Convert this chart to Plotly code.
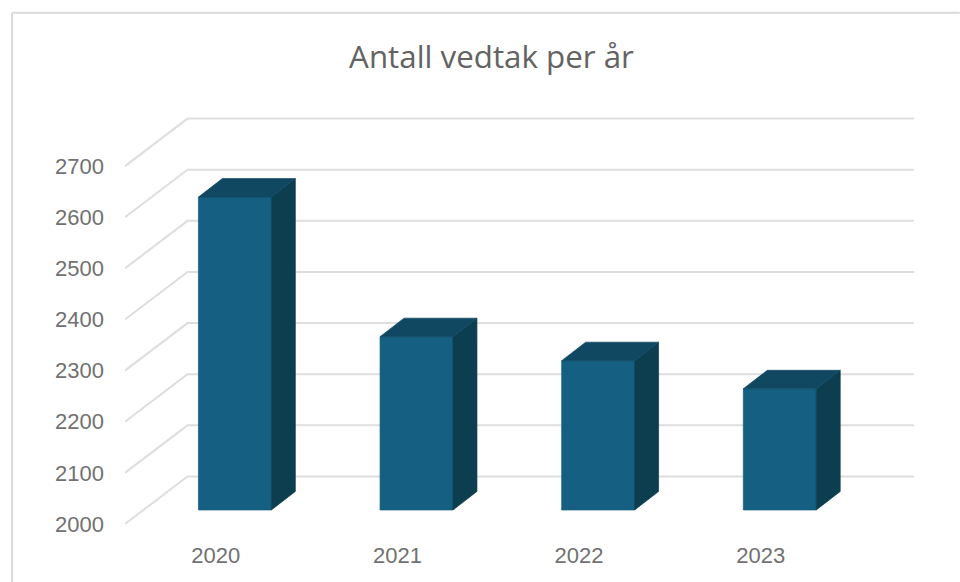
import plotly.graph_objects as go

years = ["2020", "2021", "2022", "2023"]
vedtak = [2612, 2339, 2292, 2237]
y_ticks = [2000, 2100, 2200, 2300, 2400, 2500, 2600, 2700]

AXIS_BASE = 2000
WALL_DX, WALL_DV = 0.344, 93.0      # depth of the chart floor (x units, value units)
BAR_DX, BAR_DV = 0.132, 36.2        # depth of each column
BAR_SHIFT_X, BAR_SHIFT_V = 0.105, 27.4  # where the columns stand on the floor
BAR_W = 0.4016
X0, X1 = -0.5, 3.844
GRID = "#dedede"
FRONT, TOP, SIDE = "#156082", "#104862", "#0d3e50"
TEXT = "#717171"

fig = go.Figure()

for v in y_ticks:
    fig.add_trace(go.Scatter(
        x=[X0, X0 + WALL_DX, X1], y=[v, v + WALL_DV, v + WALL_DV],
        mode="lines", line=dict(color=GRID, width=2), cliponaxis=False,
        hoverinfo="skip", showlegend=False))


def poly(xs, ys, color, name):
    fig.add_trace(go.Scatter(
        x=xs, y=ys, fill="toself", fillcolor=color, mode="lines",
        line=dict(color=color, width=0.7), cliponaxis=False, name=name,
        hoverinfo="skip", showlegend=False))


for i, (yr, val) in enumerate(zip(years, vedtak)):
    left = i + BAR_SHIFT_X - BAR_W / 2
    right = left + BAR_W
    bottom = AXIS_BASE + BAR_SHIFT_V
    top = val + BAR_SHIFT_V
    poly([left, right, right, left, left], [bottom, bottom, top, top, bottom], FRONT, yr)
    poly([right, right + BAR_DX, right + BAR_DX, right, right],
         [bottom, bottom + BAR_DV, top + BAR_DV, top, bottom], SIDE, yr)
    poly([left, right, right + BAR_DX, left + BAR_DX, left],
         [top, top, top + BAR_DV, top + BAR_DV, top], TOP, yr)

fig.update_layout(
    width=960, height=582, autosize=False,
    margin=dict(l=124.5, r=46, t=114.8, b=58.4, pad=0),
    paper_bgcolor="white", plot_bgcolor="white", showlegend=False,
    font=dict(family="Liberation Sans", color=TEXT, size=22),
    title=dict(text="Antall vedtak per år", x=491.5 / 960, xanchor="center",
               y=1 - 57 / 582, yanchor="middle",
               font=dict(family="Open Sans", size=31.3, color="#636363")),
    xaxis=dict(range=[X0, X1], tickmode="array", tickvals=list(range(4)), ticktext=years,
               showgrid=False, zeroline=False, showline=False, ticks="",
               ticklabelstandoff=16, tickfont=dict(size=22, color=TEXT)),
    yaxis=dict(range=[AXIS_BASE, 2800], tickmode="array", tickvals=y_ticks,
               showgrid=False, zeroline=False, showline=False, ticks="",
               ticklabelstandoff=20, tickfont=dict(size=22, color=TEXT)),
    shapes=[
        dict(type="line", xref="paper", yref="paper", x0=-0.1431, x1=-0.1431, y0=-0.1443, y1=1.25,
             line=dict(color="#d9d9d9", width=2)),
        dict(type="line", xref="paper", yref="paper", x0=-0.1431, x1=1.058, y0=1.25, y1=1.25,
             line=dict(color="#d9d9d9", width=2)),
    ],
)
fig.write_html("out.html", config={"displayModeBar": False},
               post_script="document.body.style.margin='0';")
